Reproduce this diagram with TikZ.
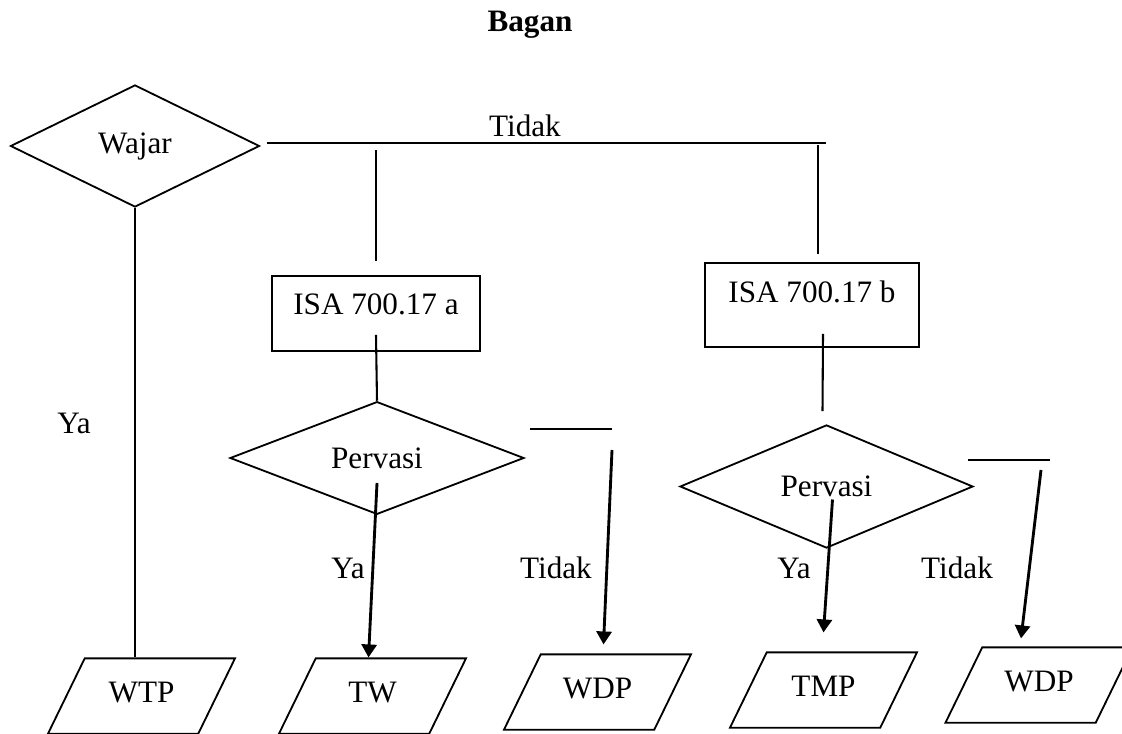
\documentclass[tikz,border=0pt]{standalone}
\usepackage{fontspec}
\setmainfont{Liberation Serif}
\usetikzlibrary{shapes.geometric,arrows.meta,calc}

\begin{document}
\begin{tikzpicture}[x=0.385pt, y=-0.385pt,
  every node/.style={font=\fontsize{12}{14}\selectfont},
  decision/.style={diamond, draw, line width=0.7pt, inner sep=0pt},
  isabox/.style={draw, line width=0.7pt, inner sep=0pt},
  outbox/.style={trapezium, trapezium left angle=64, trapezium right angle=116,
    trapezium stretches body=true, draw, line width=0.7pt,
    text height=8pt, text depth=3pt, inner ysep=9pt, inner xsep=2pt,
    minimum width=72pt},
  link/.style={line width=0.8pt},
  flow/.style={line width=1.1pt, -{Triangle[length=5pt,width=5.8pt]}}]

% Bagan opini: wajar / pervasi

\useasboundingbox (0,0) rectangle (1122,734);

\node (title) at (530,25) {\textbf{Bagan}};

\node[decision, minimum width=95.9pt, minimum height=47pt] (wajar) at (135,146) {Wajar};
\node[isabox, minimum width=80pt, text height=15pt, text depth=13.9pt] (isaA) at (376,313.5) {ISA 700.17 a};
\node[isabox, minimum width=82.4pt, text height=15.4pt, text depth=17pt] (isaB) at (812,305) {ISA 700.17 b};
\node[decision, minimum width=113.2pt, minimum height=42.4pt] (pervA) at (377,458) {Pervasi};
\node[decision, minimum width=112.8pt, minimum height=47.4pt] (pervB) at (826.5,486.5) {Pervasi};

\node[outbox] (wtp) at (141.5,696) {WTP};
\node[outbox] (tw) at (372.5,696) {TW};
\node[outbox] (wdpA) at (597.5,692) {WDP};
\node[outbox] (tmp) at (823.5,690) {TMP};
\node[outbox] (wdpB) at (1039,685) {WDP};

\node (tidakTop) at (525,126) {Tidak};
\node (yaW) at (74,423) {Ya};
\node (yaA) at (348,568) {Ya};
\node (tidakA) at (556,568) {Tidak};
\node (yaB) at (794,568) {Ya};
\node (tidakB) at (957,568) {Tidak};

\coordinate (topend) at (826,143);
\coordinate (dropA) at (376,150);
\coordinate (dropB) at (818,145);
\coordinate (barA) at (530,429);
\coordinate (barB) at (968,460);

\draw[link] (wajar.south) -- (wajar.south |- wtp.north);
\draw[link] ($(wajar.east)+(7,-3)$) -- (topend);
\draw[link] (dropA) -- ($(isaA.north)+(0,-14)$);
\draw[link] (dropB) -- ($(isaB.north)+(6,-8)$);
\draw[link] ($(isaA.south)+(0,-17)$) -- (pervA.north);
\draw[link] ($(isaB.south)+(11,-14)$) -- ($(pervB.north)+(-4,-13)$);

\draw[flow] ($(pervA)+(0,25)$) -- ($(tw.north)+(-4,0)$);
\draw[link] (barA) -- ++(82,0);
\draw[flow] ($(barA)+(82,21)$) -- ($(wdpA.north)+(6,-9)$);

\draw[flow] ($(pervB)+(6,13)$) -- ($(tmp.north)+(0,-19)$);
\draw[link] (barB) -- ++(82,0);
\draw[flow] ($(barB)+(73,10)$) -- ($(wdpB.north)+(-18,-8)$);

\end{tikzpicture}
\end{document}
